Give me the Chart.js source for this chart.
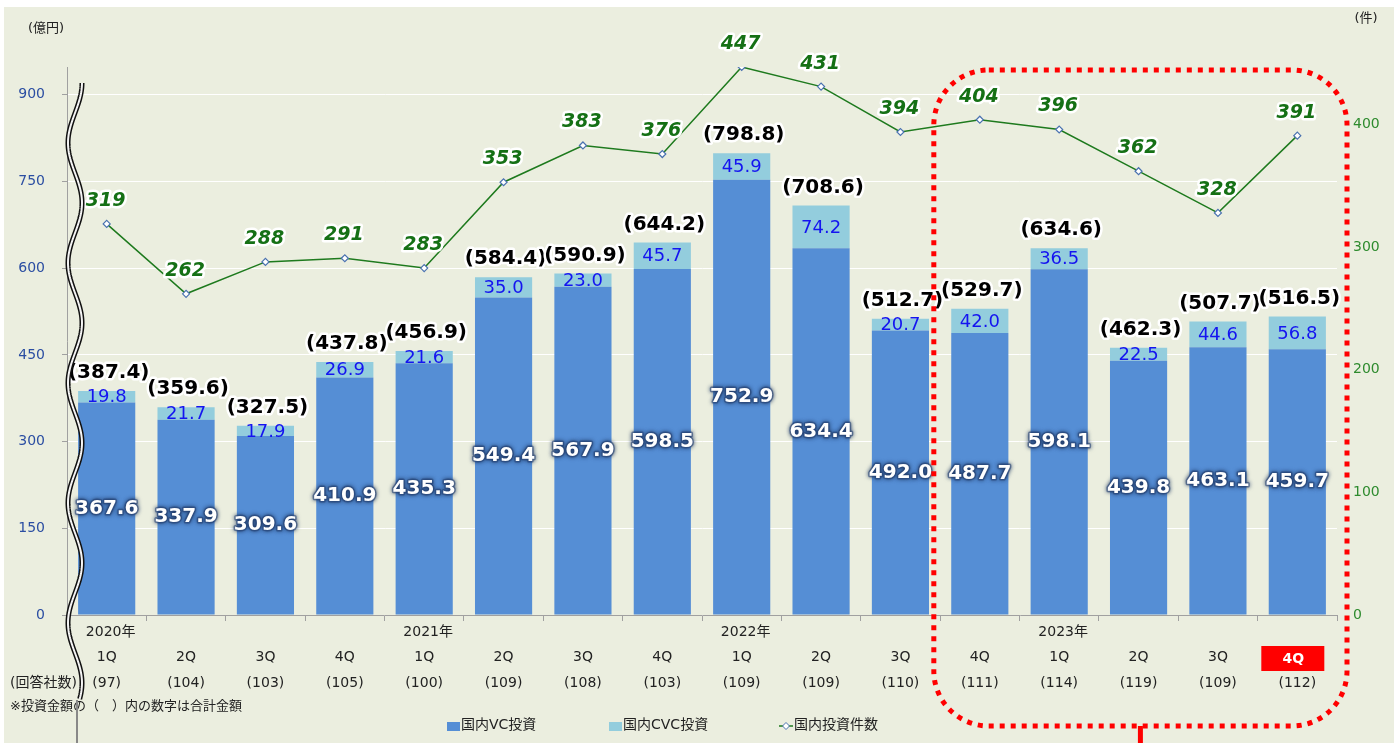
<!DOCTYPE html>
<html>
<head>
<meta charset="utf-8">
<script src="https://cdn.jsdelivr.net/npm/chart.js@4"></script>
<style>
  html, body { margin: 0; padding: 0; background: #ffffff; }
  canvas { display: block; }
</style>
</head>
<body>
<canvas id="chart" width="1394" height="743"></canvas>
<script>
// ===== DATA =====
const quarters = ["1Q", "2Q", "3Q", "4Q", "1Q", "2Q", "3Q", "4Q", "1Q", "2Q", "3Q", "4Q", "1Q", "2Q", "3Q", "4Q"];
const years = ["2020年", "", "", "", "2021年", "", "", "", "2022年", "", "", "", "2023年", "", "", ""];
const respondents = ["(97)", "(104)", "(103)", "(105)", "(100)", "(109)", "(108)", "(103)", "(109)", "(109)", "(110)", "(111)", "(114)", "(119)", "(109)", "(112)"];

const vcInvest = [367.6, 337.9, 309.6, 410.9, 435.3, 549.4, 567.9, 598.5, 752.9, 634.4, 492.0, 487.7, 598.1, 439.8, 463.1, 459.7];
const cvcInvest = [19.8, 21.7, 17.9, 26.9, 21.6, 35.0, 23.0, 45.7, 45.9, 74.2, 20.7, 42.0, 36.5, 22.5, 44.6, 56.8];
const totals = [387.4, 359.6, 327.5, 437.8, 456.9, 584.4, 590.9, 644.2, 798.8, 708.6, 512.7, 529.7, 634.6, 462.3, 507.7, 516.5];
const dealCount = [319, 262, 288, 291, 283, 353, 383, 376, 447, 431, 394, 404, 396, 362, 328, 391];

const leftTicks = [0, 150, 300, 450, 600, 750, 900];
const rightTicks = [0, 100, 200, 300, 400];

const NUM_FONT = "'DejaVu Sans', Verdana, sans-serif";
const JP_FONT = "'DejaVu Sans', 'Noto Sans CJK JP', sans-serif";

// ===== HELPERS =====
function glowText(ctx, text, x, y, fill, glow, width) {
    ctx.lineJoin = "round";
    ctx.strokeStyle = glow;
    ctx.lineWidth = width;
    ctx.strokeText(text, x, y);
    ctx.fillStyle = fill;
    ctx.fillText(text, x, y);
}

// background panel
const bgPlugin = {
    id: "bg",
    beforeDraw(chart) {
        const ctx = chart.ctx;
        ctx.save();
        ctx.fillStyle = "#ffffff";
        ctx.fillRect(0, 0, chart.width, chart.height);
        ctx.fillStyle = "#ebeedf";
        ctx.fillRect(4, 7, chart.width - 4, chart.height - 7);
        ctx.restore();
    }
};

// value labels on bars and line
const labelPlugin = {
    id: "labels",
    afterDatasetsDraw(chart) {
        const ctx = chart.ctx;
        const vcMeta = chart.getDatasetMeta(0);
        const cvcMeta = chart.getDatasetMeta(1);
        const lineMeta = chart.getDatasetMeta(2);
        ctx.save();
        ctx.textAlign = "center";
        ctx.textBaseline = "middle";

        vcMeta.data.forEach((bar, i) => {
            // VC value, white with dark glow
            const midY = (bar.y + bar.base) / 2;
            ctx.font = "bold 20px " + NUM_FONT;
            ctx.save();
            ctx.shadowColor = "#1f3864";
            ctx.shadowBlur = 4;
            glowText(ctx, vcInvest[i].toFixed(1), bar.x, midY, "#ffffff", "rgba(40,70,120,0.55)", 3);
            ctx.restore();

            // CVC value
            const c = cvcMeta.data[i];
            ctx.font = "18px " + NUM_FONT;
            ctx.fillStyle = "#1414f0";
            ctx.fillText(cvcInvest[i].toFixed(1), c.x, (c.y + c.base) / 2 + 1);

            // total
            ctx.font = "bold 20px " + NUM_FONT;
            glowText(ctx, "(" + totals[i].toFixed(1) + ")", c.x + 2, c.y - 18, "#000000", "#ffffff", 5);
        });

        lineMeta.data.forEach((pt, i) => {
            ctx.font = "italic bold 19px " + NUM_FONT;
            glowText(ctx, String(dealCount[i]), pt.x - 1, pt.y - 23, "#157015", "#ffffff", 5);
        });
        ctx.restore();
    }
};

// axis texts, notes, legend, wave break, highlight frame
const decoPlugin = {
    id: "deco",
    afterDraw(chart) {
        const ctx = chart.ctx;
        const xs = chart.scales.x;
        const area = chart.chartArea;
        ctx.save();

        // unit labels
        ctx.font = "13px " + JP_FONT;
        ctx.fillStyle = "#222";
        ctx.textAlign = "center";
        ctx.textBaseline = "middle";
        ctx.fillText("(億円)", 46, 29);
        ctx.fillText("(件)", 1366, 19);

        // highlight box behind last quarter
        const lastX = xs.getPixelForValue(quarters.length - 1);
        ctx.fillStyle = "#ff0000";
        ctx.fillRect(lastX - 36, 646, 63, 25);

        // x labels
        ctx.font = "14px " + JP_FONT;
        quarters.forEach((q, i) => {
            const x = xs.getPixelForValue(i);
            ctx.fillStyle = "#222";
            if (years[i]) ctx.fillText(years[i], x + 4, 632);
            if (i === quarters.length - 1) {
                ctx.fillStyle = "#ffffff";
                ctx.font = "bold 14px " + JP_FONT;
                ctx.fillText(q, x - 4, 659);
                ctx.font = "14px " + JP_FONT;
            } else {
                ctx.fillText(q, x, 657);
            }
            ctx.fillStyle = "#222";
            ctx.fillText(respondents[i], x, 683);
        });
        ctx.textAlign = "left";
        ctx.fillText("(回答社数)", 10, 683);
        ctx.font = "13px " + JP_FONT;
        ctx.fillText("※投資金額の（　）内の数字は合計金額", 10, 707);

        // legend
        ctx.font = "14px " + JP_FONT;
        ctx.fillStyle = "#558ed5";
        ctx.fillRect(447, 722, 13, 9);
        ctx.fillStyle = "#222";
        ctx.fillText("国内VC投資", 461, 725);
        ctx.fillStyle = "#93cddd";
        ctx.fillRect(609, 722, 13, 9);
        ctx.fillStyle = "#222";
        ctx.fillText("国内CVC投資", 623, 725);
        ctx.strokeStyle = "#1e7a1e";
        ctx.lineWidth = 1.5;
        ctx.beginPath();
        ctx.moveTo(779, 726);
        ctx.lineTo(793, 726);
        ctx.stroke();
        ctx.beginPath();
        ctx.moveTo(786, 722.5); ctx.lineTo(789.5, 726); ctx.lineTo(786, 729.5); ctx.lineTo(782.5, 726); ctx.closePath();
        ctx.fillStyle = "#fff";
        ctx.fill();
        ctx.strokeStyle = "#4a72b0";
        ctx.lineWidth = 1;
        ctx.stroke();
        ctx.fillStyle = "#222";
        ctx.fillText("国内投資件数", 794, 725);

        // wavy axis break
        const wave = new Path2D();
        for (let y = 83; y <= 700; y += 2) {
            const x = 75 + 7 * Math.cos(2 * Math.PI * (y - 83) / 120);
            if (y === 83) wave.moveTo(x, y); else wave.lineTo(x, y);
        }
        ctx.strokeStyle = "#111";
        ctx.lineWidth = 5;
        ctx.stroke(wave);
        ctx.strokeStyle = "#f4f4f4";
        ctx.lineWidth = 2;
        ctx.stroke(wave);
        ctx.strokeStyle = "#888";
        ctx.lineWidth = 2;
        ctx.beginPath();
        ctx.moveTo(77, 700);
        ctx.lineTo(77, 743);
        ctx.stroke();

        // red dotted frame
        const left = xs.getPixelForValue(11) - 46;
        const right = area.right + 10;
        const top = 70, bottom = 726, r = 55;
        ctx.strokeStyle = "#ff0000";
        ctx.lineWidth = 5;
        ctx.setLineDash([5, 6]);
        ctx.beginPath();
        ctx.roundRect(left, top, right - left, bottom - top, r);
        ctx.stroke();
        ctx.setLineDash([]);
        ctx.lineWidth = 5;
        ctx.beginPath();
        ctx.moveTo((left + right) / 2, bottom);
        ctx.lineTo((left + right) / 2, 743);
        ctx.stroke();

        ctx.restore();
    }
};

// ===== CHART =====
new Chart(document.getElementById("chart"), {
    type: "bar",
    data: {
        labels: quarters,
        datasets: [
            {
                label: "国内VC投資",
                data: vcInvest,
                backgroundColor: "#558ed5",
                stack: "inv",
                order: 1
            },
            {
                label: "国内CVC投資",
                data: cvcInvest,
                backgroundColor: "#93cddd",
                stack: "inv",
                order: 1
            },
            {
                type: "line",
                label: "国内投資件数",
                data: dealCount,
                yAxisID: "y1",
                borderColor: "#1e7a1e",
                borderWidth: 1.5,
                pointStyle: "rectRot",
                pointRadius: 3.5,
                pointBackgroundColor: "#ffffff",
                pointBorderColor: "#4a72b0",
                pointBorderWidth: 1.2,
                tension: 0,
                order: 0
            }
        ]
    },
    options: {
        responsive: false,
        animation: false,
        categoryPercentage: 1,
        barPercentage: 0.72,
        layout: { padding: { top: 67, left: 0, right: 0, bottom: 0 } },
        plugins: {
            legend: { display: false },
            tooltip: { enabled: false }
        },
        scales: {
            x: {
                stacked: true,
                grid: { offset: true, drawOnChartArea: false, tickLength: 6, tickColor: "#a0a0a0" },
                border: { color: "#a0a0a0" },
                ticks: { display: false },
                afterFit(scale) { scale.height = 128; }
            },
            y: {
                stacked: true,
                min: 0,
                max: 948,
                afterBuildTicks(scale) { scale.ticks = leftTicks.map(v => ({ value: v })); },
                ticks: {
                    color: "#2b4ea2",
                    font: { family: NUM_FONT, size: 14 },
                    padding: 17
                },
                grid: { color: "#ffffff", tickColor: "#a0a0a0", tickLength: 5, lineWidth: 1 },
                border: { color: "#a0a0a0" },
                afterFit(scale) { scale.width = 67; }
            },
            y1: {
                position: "right",
                min: 0,
                max: 447,
                afterBuildTicks(scale) { scale.ticks = rightTicks.map(v => ({ value: v })); },
                ticks: {
                    color: "#2e8b2e",
                    font: { family: NUM_FONT, size: 14 },
                    padding: 8
                },
                grid: { display: false },
                border: { display: false },
                afterFit(scale) { scale.width = 57; }
            }
        }
    },
    plugins: [bgPlugin, labelPlugin, decoPlugin]
});
</script>
</body>
</html>
